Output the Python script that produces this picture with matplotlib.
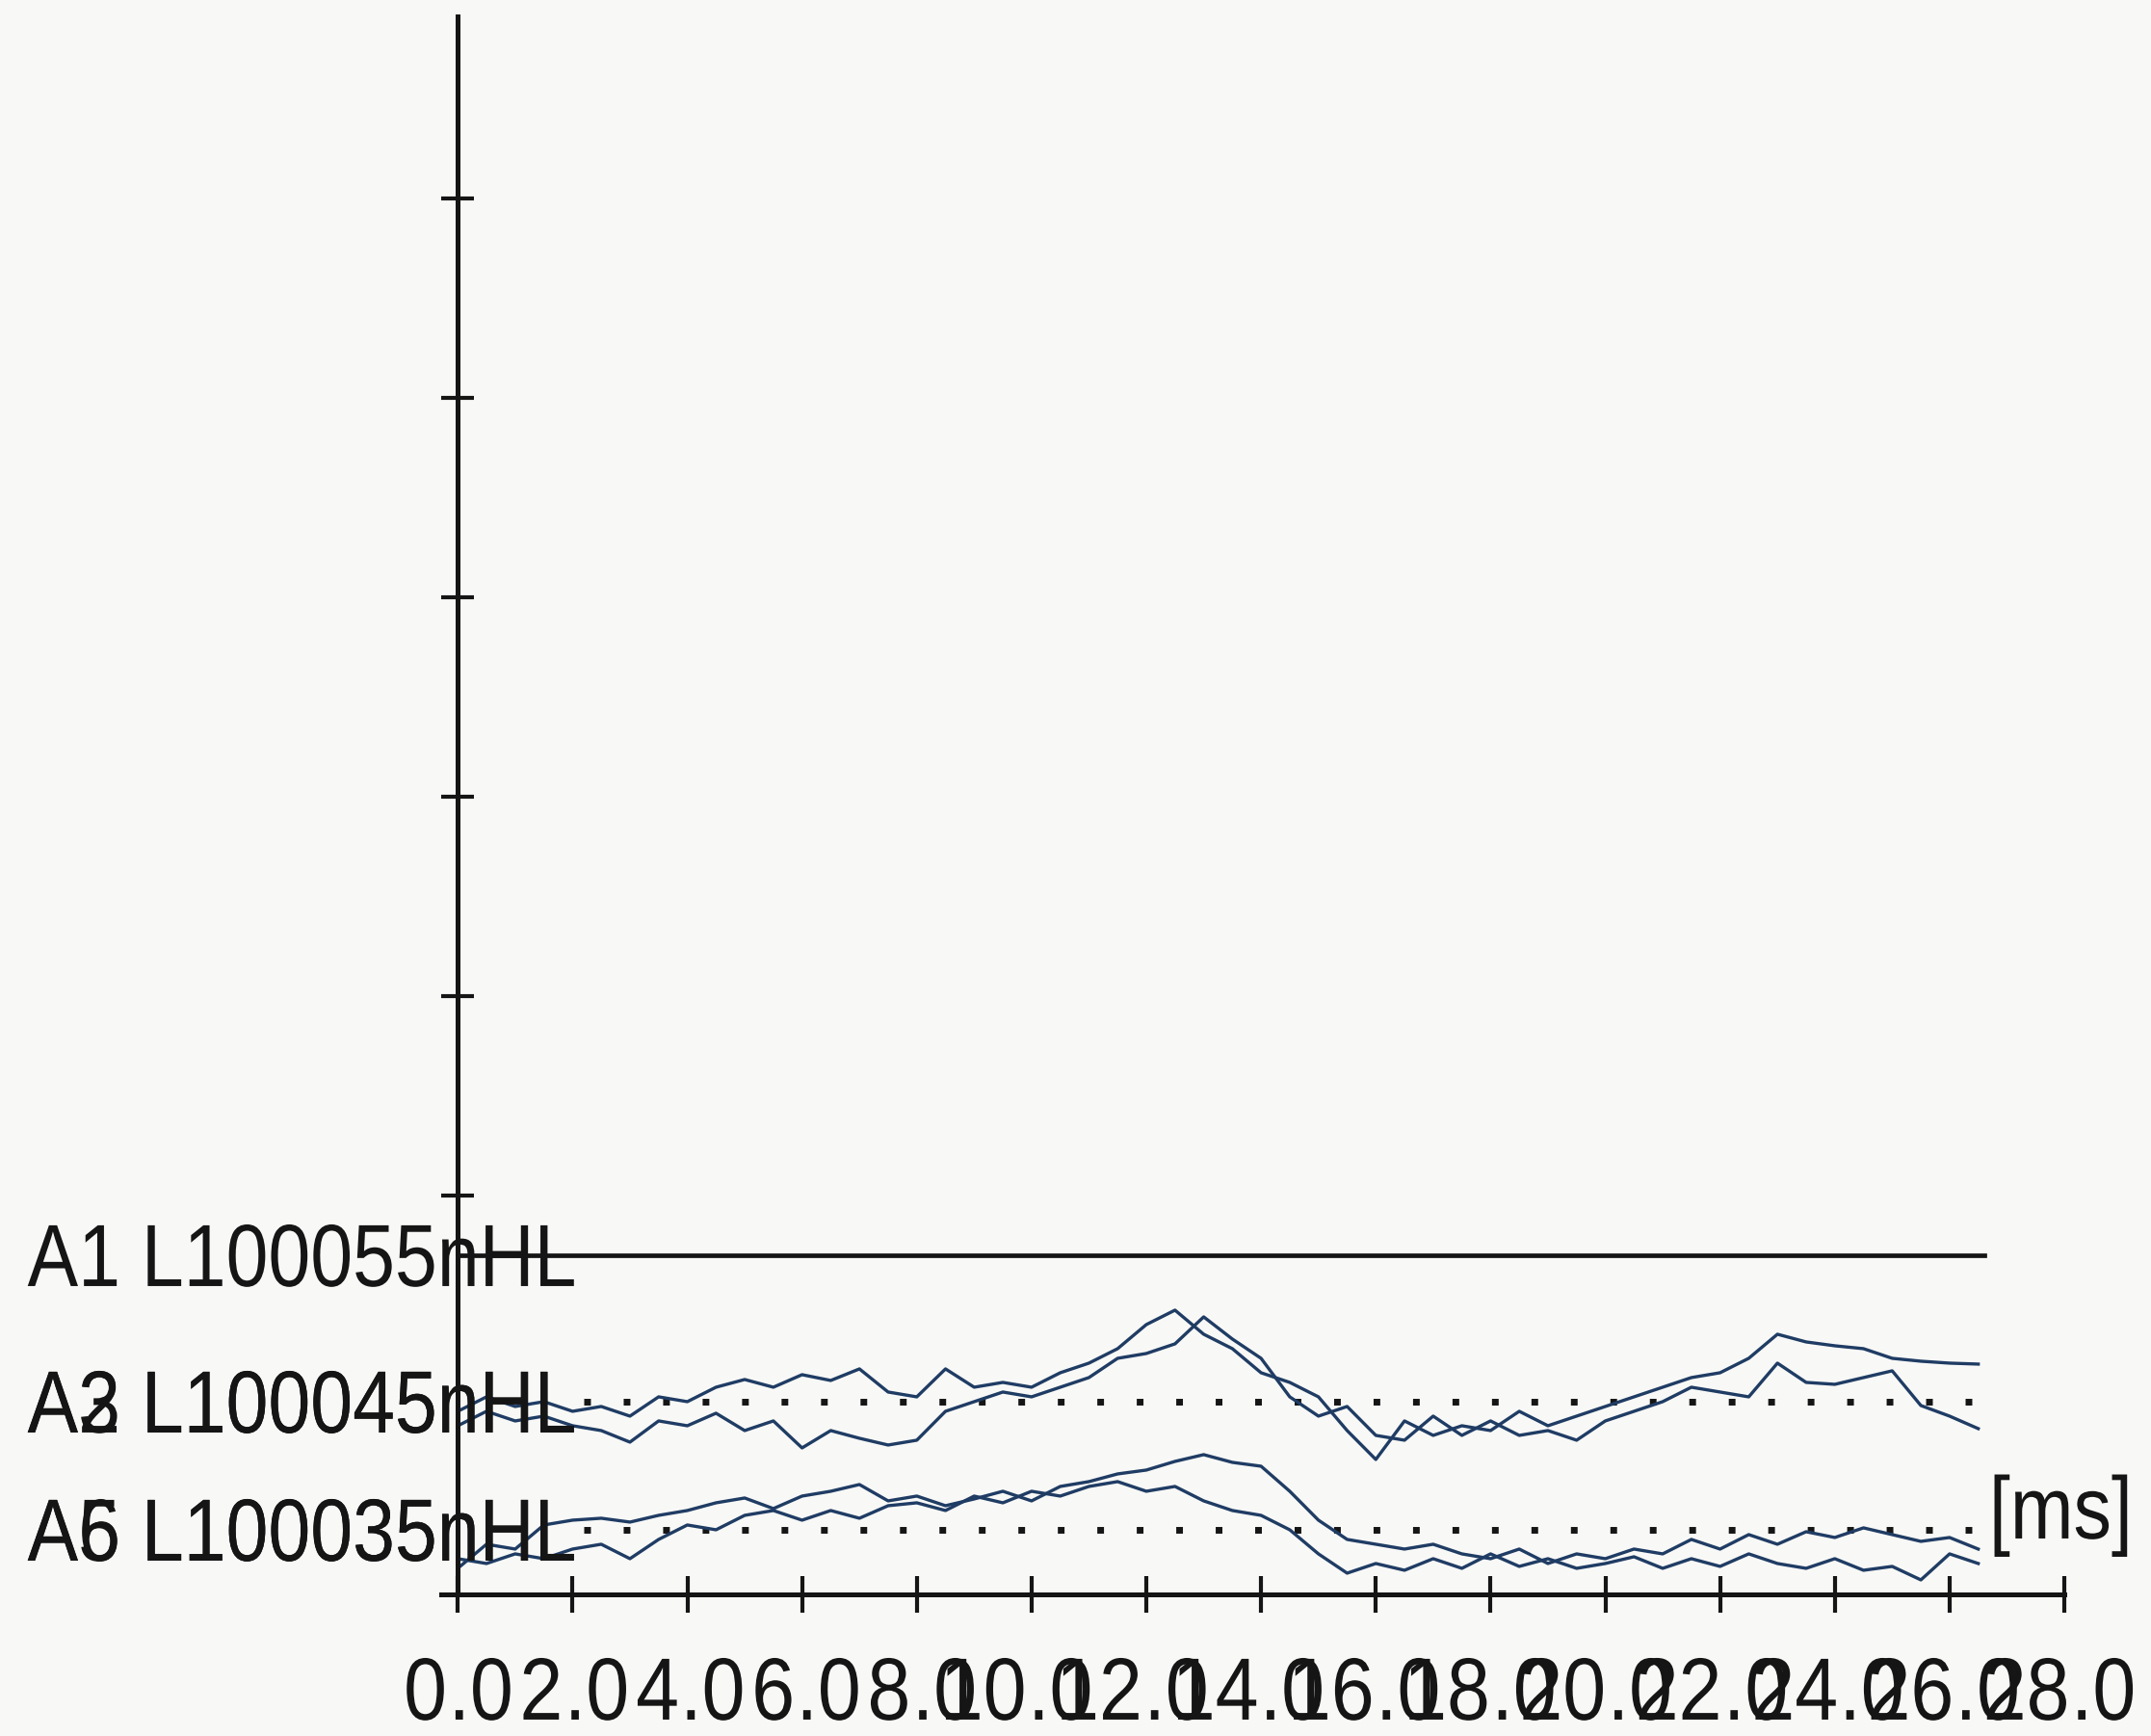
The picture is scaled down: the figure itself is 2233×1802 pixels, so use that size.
import numpy as np
import matplotlib.pyplot as plt
from matplotlib import patheffects
from matplotlib.transforms import Affine2D

# 색/글꼴
BG = '#f8f8f6'
INK = '#151515'
TRACE = '#1f3c64'
plt.rcParams['font.family'] = ['Liberation Sans', 'DejaVu Sans']

# 시간축 (ms), 0.5 ms 간격
t = np.arange(0, 27.0, 0.5)

# 채널 정보
channels = ['A1', 'A2', 'A3', 'A5', 'A6']
freq = [1000, 1000, 1000, 1000, 1000]
level = [55, 45, 45, 35, 35]
baseline = [352, 200, 200, 67, 67]  # 각 파형의 기준선

# A1 : 거의 평탄
a1_t = [0.0, 26.6]
a1 = [0, 0]

# A2 / A3 (45 nHL)
a2 = [-10, 5, -5, 0, -10, -5, -15, 5, 0, 15, 23, 15, 28, 22, 34, 10, 5, 34,
      15, 20, 15, 30, 40, 55, 80, 95, 70, 55, 30, 20, 5, -30, -60, -20, -35, -25,
      -30, -10, -25, -15, -5, 5, 15, 25, 30, 45, 70, 62, 58, 55, 45, 42, 40, 39]
a3 = [-25, -10, -20, -15, -25, -30, -42, -20, -25, -12, -30, -20, -48, -30, -38, -45, -40, -10,
      0, 10, 5, 15, 25, 45, 50, 60, 88, 65, 45, 5, -15, -5, -35, -40, -15, -35,
      -20, -35, -30, -40, -20, -10, 0, 15, 10, 5, 40, 20, 18, 25, 32, -4, -15, -28]

# A5 / A6 (35 nHL)
a5 = [-40, -15, -20, 5, 10, 12, 8, 15, 20, 28, 33, 22, 35, 40, 47, 30, 35, 25,
      32, 40, 30, 45, 50, 58, 62, 71, 78, 70, 66, 40, 10, -10, -15, -20, -15, -25,
      -30, -20, -35, -25, -30, -20, -25, -10, -20, -5, -15, -2, -8, 2, -5, -12, -8, -20]
a6 = [-30, -35, -25, -30, -20, -15, -30, -10, 5, 0, 15, 20, 10, 20, 12, 25, 28, 20,
      35, 28, 40, 35, 45, 50, 40, 45, 30, 20, 15, 0, -25, -45, -35, -42, -30, -40,
      -25, -38, -30, -40, -35, -28, -40, -30, -38, -25, -35, -40, -30, -42, -38, -52, -25, -35]

xticks = np.arange(0, 29, 2)
yticks = np.arange(2, 8) * 207


# 좁은 글꼴이 없어서 글자를 가로로 눌러서 그림
class Narrow(patheffects.AbstractPathEffect):
    def __init__(self, sx=0.82, anchor='left'):
        super().__init__()
        self.sx = sx
        self.anchor = anchor

    def draw_path(self, renderer, gc, tpath, affine, rgbFace=None):
        ext = affine.transform_path(tpath).get_extents()
        x0 = ext.x0 if self.anchor == 'left' else ext.x1
        squeeze = Affine2D().translate(-x0, 0).scale(self.sx, 1).translate(x0, 0)
        renderer.draw_path(gc, tpath, affine + squeeze, rgbFace)


FS = 66
LBL_L = [Narrow(0.86, 'left')]
LBL_R = [Narrow(0.86, 'right')]
TICK_L = [Narrow(0.88, 'left')]
TICK_R = [Narrow(0.88, 'right')]

fig = plt.figure(figsize=(22.33, 18.02), dpi=100, facecolor=BG)
ax = fig.add_axes([0.2051, 0.0816, 0.7546, 0.909])
ax.set_facecolor(BG)
ax.set_xlim(-0.29, 28)
ax.set_ylim(0, 1638)

# 축
ax.spines[['top', 'right']].set_visible(False)
ax.spines['left'].set_position(('data', 0))
for s in ['left', 'bottom']:
    ax.spines[s].set_linewidth(3.6)
    ax.spines[s].set_color(INK)
ax.set_xticks(xticks)
ax.set_xticklabels([])
ax.set_yticks(yticks)
ax.set_yticklabels([])
ax.tick_params(axis='x', direction='inout', length=28, width=3, color=INK)
ax.tick_params(axis='y', direction='inout', length=24, width=3, color=INK)

# 기준선 점선
for b in sorted(set(baseline[1:])):
    ax.hlines(b, 2.2, 26.5, colors=INK, linestyles=(0, (1, 4.9)), lw=5.0)

# 파형
ax.plot(a1_t, np.array(a1) + baseline[0], color=INK, lw=3.4)
for vals, b in zip([a2, a3, a5, a6], baseline[1:]):
    ax.plot(t, np.array(vals) + b, color=TRACE, lw=2.4)

# 파형 라벨 (겹쳐서 출력됨)
for ch, f, lv, b in zip(channels, freq, level, baseline):
    ax.text(-7.5, b - 32, f'{ch} L{f}{lv}nHL', ha='left', va='baseline',
            fontsize=FS, color=INK, clip_on=False, path_effects=LBL_L)

ax.text(29.2, 58, '[ms]', ha='right', va='baseline', fontsize=FS, color=INK,
        clip_on=False, path_effects=LBL_R)

# x축 라벨: 소수점이 눈금 근처에 오도록 (원본은 라벨 간격이 눈금보다 약간 넓음)
for v in xticks:
    x = v * 1.01 - 0.18
    ax.text(x, -130, f'{v}', ha='right', va='baseline', fontsize=FS, color=INK,
            clip_on=False, path_effects=TICK_R)
    ax.text(x, -130, '.0', ha='left', va='baseline', fontsize=FS, color=INK,
            clip_on=False, path_effects=TICK_L)

plt.savefig('out.png', dpi=100, facecolor=BG)
